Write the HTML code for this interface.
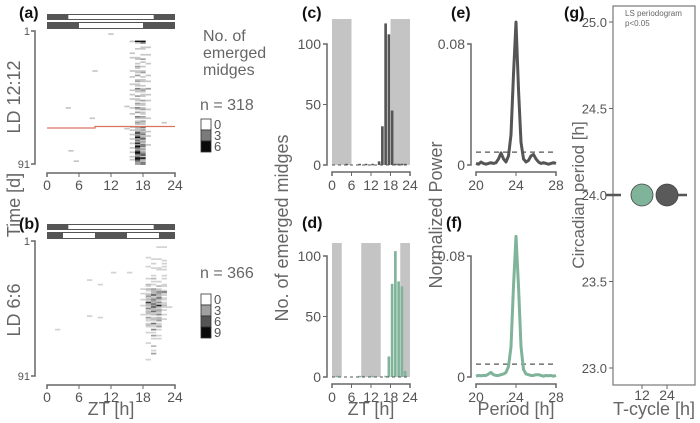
<!DOCTYPE html>
<html><head><meta charset="utf-8"><style>
body{margin:0;background:#fff}
svg{display:block;font-family:"Liberation Sans",sans-serif}
</style></head><body>
<svg id="fig" width="700" height="423" viewBox="0 0 700 423">
<g font-weight="bold" font-size="16" fill="#111">
<text x="19" y="18">(a)</text>
<text x="19" y="229">(b)</text>
<text x="302" y="18">(c)</text>
<text x="302" y="228">(d)</text>
<text x="451" y="18">(e)</text>
<text x="446" y="228">(f)</text>
<text x="564" y="18">(g)</text>
</g>
<g fill="#666" font-size="18">
<text transform="translate(20,205) rotate(-90)" text-anchor="middle">Time [d]</text>
<text transform="translate(20,97) rotate(-90)" text-anchor="middle">LD 12:12</text>
<text transform="translate(20,310) rotate(-90)" text-anchor="middle">LD 6:6</text>
<text transform="translate(288,228) rotate(-90)" text-anchor="middle">No. of emerged midges</text>
<text transform="translate(442,215) rotate(-90)" text-anchor="middle">Normalized Power</text>
<text transform="translate(584,195) rotate(-90)" text-anchor="middle" font-size="17">Circadian period [h]</text>
<text x="111" y="415" text-anchor="middle">ZT [h]</text>
<text x="371" y="415" text-anchor="middle">ZT [h]</text>
<text x="516" y="415" text-anchor="middle">Period [h]</text>
<text x="654" y="415" text-anchor="middle">T-cycle [h]</text>
</g>
<g fill="#666" font-size="16">
<text x="203" y="41">No. of</text>
<text x="203" y="58">emerged</text>
<text x="203" y="75">midges</text>
<text x="200" y="110">n =  318</text>
<text x="200" y="278">n =  366</text>
</g>
<g id="plots"></g>
</svg>
<script>
const colsA=[15.5,16.5,17.5,18.5];
const rowsA={8:[1,6,6,0],9:[0,1,3,0],12:[0,0,1,1],13:[0,1,1,0],16:[1,0,0,0],17:[0,0,1,1],19:[1,1,0,0],20:[0,1,2,0],22:[0,0,1,0],23:[0,1,0,1],25:[0,2,1,0],26:[0,1,0,0],28:[1,1,1,0],29:[0,1,2,0],31:[0,2,0,1],32:[1,0,1,0],34:[0,1,1,0],35:[0,2,1,1],37:[1,1,0,0],38:[0,1,1,0],40:[0,3,1,2],41:[1,1,2,0],42:[0,1,1,0],44:[1,0,1,1],45:[0,2,1,0],47:[1,1,0,0],48:[0,1,2,1],50:[0,2,1,0],51:[0,1,1,0],53:[1,3,1,0],54:[0,1,2,1],56:[0,2,1,0],57:[1,0,1,0],59:[0,3,2,0],60:[0,1,1,1],62:[0,1,2,0],63:[0,2,1,0],64:[0,1,1,0],66:[1,2,4,0],67:[0,1,1,0],68:[1,1,2,0],69:[0,2,1,1],70:[0,5,2,0],71:[1,2,3,0],72:[0,3,1,1],73:[0,6,2,0],74:[1,2,4,0],75:[0,3,1,0],76:[0,2,2,0],77:[1,5,1,0],78:[0,2,3,1],79:[0,6,3,0],80:[1,4,1,0],81:[0,2,2,0],82:[0,3,1,0],83:[1,6,2,0],84:[0,5,3,0],85:[0,2,4,0],86:[1,3,1,0],87:[0,6,6,0],88:[1,5,2,0],89:[0,3,1,0],90:[0,2,3,0],91:[0,2,3,0]};
const strayA=[[3,11.5,1],[28,8.5,1],[53,3.5,1],[60,8,1],[63,21.5,1],[82,4,1],[89,5,1],[52,14.5,1],[67,14.5,1]];
const colsB=[17.5,18.5,19.5,20.5,21.5];
const rowsB={5:[0,0,0,1,1],12:[0,1,0,0,0],13:[0,0,1,1,0],14:[0,0,0,0,1],16:[0,0,1,0,1],18:[0,1,0,0,1],19:[0,0,1,1,0],20:[0,0,0,1,1],24:[0,0,1,0,1],26:[0,1,2,0,1],28:[0,0,1,1,0],30:[0,2,1,0,1],31:[0,1,0,2,1],33:[1,2,3,1,0],34:[0,1,2,2,1],35:[0,0,2,4,5],36:[1,1,2,3,1],37:[0,2,6,2,1],38:[0,3,1,2,0],39:[0,1,2,5,1],40:[1,2,4,2,1],41:[0,1,3,1,0],42:[0,7,2,4,1],43:[0,2,5,1,1],44:[1,2,3,8,2],45:[0,1,6,2,1],46:[0,4,2,1,0],47:[0,1,2,3,1],48:[0,2,5,2,0],49:[0,2,1,1,0],50:[1,1,2,4,1],52:[0,3,1,2,0],53:[0,1,2,2,1],54:[0,1,1,3,0],56:[0,1,5,1,0],57:[0,2,1,1,0],58:[0,1,1,3,0],60:[0,0,4,1,0],62:[0,1,1,0,0],64:[0,0,3,1,0],66:[0,0,1,1,0],69:[0,1,0,0,0],71:[0,0,2,0,0],74:[0,0,1,0,0],76:[0,0,3,0,0],80:[0,1,0,0,0]};
const strayB=[[22,12,1],[22,15,1],[27,7.5,1],[30,9.5,1],[51,7.5,1],[52,9.5,1],[60,1.5,1],[45,22.5,1]];
const hours=[...Array(24).keys()];
const histC=[0,0,0,0,1,0,0,0,1,0,1,0,1,0,3,32,117,108,45,1,1,1,1,0];
const histD=[0,1,0,0,0,0,0,0,1,1,0,0,1,0,0,0,1,17,77,104,79,75,5,0];
const periods=[];for(let i=0;i<=32;i++)periods.push(20+i*0.25);
const powerE=[0.001,0.0005,0.002,0.001,0.0005,0.001,0.0015,0.001,0.0015,0.004,0.008,0.004,0.002,0.006,0.02,0.06,0.0945,0.05,0.015,0.004,0.002,0.003,0.006,0.007,0.004,0.002,0.001,0.0015,0.001,0.0005,0.001,0.0015,0.001];
const powerF=[0.0005,0.001,0.0008,0.001,0.001,0.002,0.003,0.0015,0.001,0.001,0.0015,0.002,0.003,0.007,0.02,0.06,0.093,0.06,0.02,0.005,0.002,0.0015,0.001,0.001,0.0015,0.0015,0.001,0.0005,0.001,0.0008,0.001,0.0005,0.001];
const threshE=0.0085, threshF=0.0085;
const tcycles=[12,24], periodsG=[24.0,24.0];
const ticksZT=[0,6,12,18,24], ticksP=[20,24,28], ticksG=[23.0,23.5,24.0,24.5,25.0];

const NS="http://www.w3.org/2000/svg", P=document.getElementById('plots');
function el(t,a,parent){const e=document.createElementNS(NS,t);for(const k in a)e.setAttribute(k,a[k]);(parent||P).appendChild(e);return e;}
function txt(x,y,s,anchor,size,fill){const e=el('text',{x,y,'text-anchor':anchor,'font-size':size,fill:fill||'#555'});e.textContent=s;return e;}
const AX='#666';

function actogram(cols,rows,stray,y0,y1,bar1,bar2,maxC,pal,legY,legLabels){
  const xs=z=>47+z*128/24, ys=d=>y0+(d-1)*(y1-y0)/90, rh=(y1-y0)/90;
  const b1=el('rect',{x:47,y:y0-17,width:128,height:6,fill:'#555'});
  
  
  el('rect',{x:xs(bar1[0]),y:y0-16,width:xs(bar1[1])-xs(bar1[0]),height:4,fill:'#fff'});
  const b2=el('rect',{x:47,y:y0-9,width:128,height:7,fill:'#555'});
  
  
  bar2.forEach(s=>el('rect',{x:xs(s[0]),y:y0-8,width:xs(s[1])-xs(s[0]),height:5,fill:'#fff'}));
  const cells=stray.slice();
  Object.keys(rows).forEach(d=>rows[d].forEach((c,i)=>{if(c)cells.push([+d,cols[i],c]);}));
  cells.forEach(c=>{
    const r=el('rect',{x:xs(c[1]),y:ys(c[0])-rh/2,width:128/24,height:rh+0.2,fill:pal(c[2]/maxC)});
    
    
  });
  el('path',{d:`M31 ${y0}H35V${y1}H31`,stroke:AX,fill:'none','stroke-width':1.5});
  txt(30,y0+4,'1','end',11,'#555');txt(30,y1+4,'91','end',11,'#555');
  const ya=y1+9;
  el('path',{d:`M47 ${ya+4}V${ya}H175V${ya+4}`,stroke:AX,fill:'none','stroke-width':1.5});
  ticksZT.forEach(t=>{el('line',{x1:xs(t),x2:xs(t),y1:ya,y2:ya+4,stroke:AX});txt(xs(t),ya+17,t,'middle',14);});
  const n=legLabels.length, h=11;
  legLabels.forEach((l,i)=>{
    const g=l/legLabels[n-1];
    const r=el('rect',{x:201,y:legY+i*h,width:10,height:h,fill:l===0?'#fff':pal(g),stroke:'#333','stroke-width':0.8});
    
    
    txt(214,legY+i*h+10,l,'start',13);
  });
}
const grayL=f=>{const v=Math.round(225*(1-Math.min(1,f))+10);return `rgb(${v},${v},${v})`;};
actogram(colsA,rowsA,strayA,31,164,[4,20],[[6,18]],6,grayL,119,[0,3,6]);
el('path',{d:'M47 128H95V126.5H175',stroke:'#d9735f','stroke-width':1.3,fill:'none'});
actogram(colsB,rowsB,strayB,241,376,[4,20],[[3,9],[15,21]],9,grayL,294,[0,3,6,9]);

function hist(vals,y0,dark,color,yTop){
  const xs=z=>332+z*78/24, ys=v=>y0-v*1.21;
  dark.forEach(s=>{const r=el('rect',{x:xs(s[0]),y:yTop,width:xs(s[1])-xs(s[0]),height:y0-yTop,fill:'#c4c4c4'});
    });
  hours.forEach((h,i)=>{const v=vals[i];if(!v)return;
    const r=el('rect',{x:xs(h)+0.3,y:ys(v),width:78/24-0.6,height:Math.max(1.5,v*1.21),fill:color});
    });
  el('line',{x1:332,x2:410,y1:y0,y2:y0,stroke:'#555','stroke-dasharray':'3,3','stroke-width':1});
  el('path',{d:`M323 ${ys(100)}H327V${y0}H323`,stroke:AX,fill:'none','stroke-width':1.5});
  [0,50,100].forEach(t=>{el('line',{x1:323,x2:327,y1:ys(t),y2:ys(t),stroke:AX});txt(321,ys(t)+5,t,'end',14);});
  const ya=y0+7;
  el('path',{d:`M332 ${ya+4}V${ya}H410V${ya+4}`,stroke:AX,fill:'none','stroke-width':1.5});
  ticksZT.forEach(t=>{el('line',{x1:xs(t),x2:xs(t),y1:ya,y2:ya+4,stroke:AX});txt(xs(t),ya+18,t,'middle',14);});
}
hist(histC,165,[[0,6],[18,24]],'#555',19);
hist(histD,377,[[0,3],[9,15],[21,24]],'#7fb39a',243);

function pgram(vals,thr,y0,color){
  const xs=p=>476+(p-20)*80/8, ys=v=>y0-v*121/0.08;
  el('line',{x1:476,x2:556,y1:ys(thr),y2:ys(thr),stroke:'#555','stroke-dasharray':'5,4','stroke-width':1.2});
  const pl=el('polyline',{points:periods.map((p,i)=>xs(p)+','+ys(vals[i])).join(' '),fill:'none',stroke:color,'stroke-width':3,'stroke-linejoin':'round'});
  
  el('path',{d:`M467 ${ys(0.08)}H471V${y0}H467`,stroke:AX,fill:'none','stroke-width':1.5});
  [[0,'0'],[0.08,'0.08']].forEach(t=>{el('line',{x1:467,x2:471,y1:ys(t[0]),y2:ys(t[0]),stroke:AX});txt(465,ys(t[0])+5,t[1],'end',14);});
  const ya=y0+7;
  el('path',{d:`M476 ${ya+4}V${ya}H556V${ya+4}`,stroke:AX,fill:'none','stroke-width':1.5});
  ticksP.forEach(t=>{el('line',{x1:xs(t),x2:xs(t),y1:ya,y2:ya+4,stroke:AX});txt(xs(t),ya+18,t,'middle',14);});
}
pgram(powerE,threshE,165,'#555');
pgram(powerF,threshF,377,'#7fb39a');

(function(){
  const ys=v=>195-(v-24)*173; const xs=t=>t===12?642:667;
  const box=el('rect',{x:613,y:6,width:82,height:379,fill:'none',stroke:'#777','stroke-width':1.2});
  
  ticksG.forEach(t=>{el('line',{x1:609,x2:613,y1:ys(t),y2:ys(t),stroke:AX});txt(607,ys(t)+5,t.toFixed(1),'end',13);});
  el('line',{x1:606,x2:621,y1:ys(periodsG[0]),y2:ys(periodsG[0]),stroke:'#555','stroke-width':2.5});
  el('line',{x1:xs(24),x2:687,y1:ys(periodsG[1]),y2:ys(periodsG[1]),stroke:'#555','stroke-width':2.5});
  const cols=['#7fb39a','#5a5a5a'];
  tcycles.forEach((t,i)=>{
    const c=el('circle',{cx:xs(t),cy:ys(periodsG[i]),r:11,fill:cols[i],stroke:'#444','stroke-width':0.8});
    
    el('line',{x1:xs(t),x2:xs(t),y1:385,y2:389,stroke:AX});
    txt(xs(t),400,t,'middle',14);
  });
  txt(625,16,'LS periodogram','start',8,'#666');
  txt(625,26,'p<0.05','start',8,'#666');
})();
</script>
</body></html>
